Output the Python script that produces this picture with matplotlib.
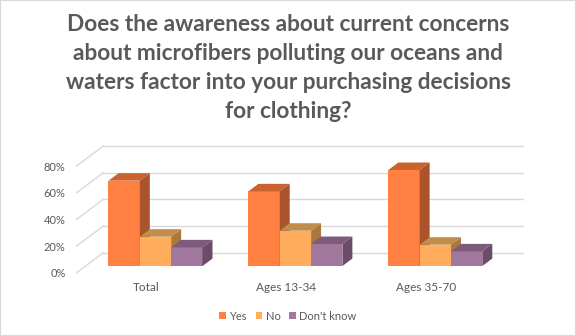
import matplotlib
matplotlib.use("Agg")
import matplotlib.pyplot as plt
from matplotlib.patches import Polygon, Rectangle, Patch

# data
categories = ["Total", "Ages 13-34", "Ages 35-70"]
series = ["Yes", "No", "Don't know"]
yes = [64, 56, 72]
no = [22, 26.5, 16]
dont_know = [14, 16.5, 11]
yticks = [0, 20, 40, 60, 80]
title = ("Does the awareness about current concerns\n"
         "about microfibers polluting our oceans and\n"
         "waters factor into your purchasing decisions\n"
         "for clothing?")

# face colours: front, top, side
colors = [
    ("#FF8040", "#C9622C", "#A9542A"),
    ("#FFAD5C", "#C38C4A", "#A9783C"),
    ("#A2779D", "#7E5B7B", "#6B4B67"),
]
grid_col = "#D9D9D9"
text_col = "#595959"
font = "Lato"

# oblique depth projection (data units per unit depth)
DX, DY = 0.19, 15.0
d0, d1 = 0.333, 0.708
w = 0.224

fig = plt.figure(figsize=(5.76, 3.36), dpi=100)
fig.patches.append(Rectangle((0, 0), 1, 1, transform=fig.transFigure,
                             fill=False, edgecolor="#D9D9D9", lw=1.5))
ax = fig.add_axes([76.7 / 576, 63.3 / 336, 446.3 / 576, 126.7 / 336])
ax.set_xlim(-0.5, 2.5 + DX)
ax.set_ylim(0, 80 + DY)

# walls
for v in yticks:
    ax.plot([-0.5 + DX, 2.5 + DX], [v + DY, v + DY], color=grid_col, lw=1,
            clip_on=False, zorder=1)
    ax.plot([-0.5, -0.5 + DX], [v, v + DY], color=grid_col, lw=1,
            clip_on=False, zorder=1)

# bars
values = [yes, no, dont_know]
for i in range(len(categories)):
    for j, vals in enumerate(values):
        v = vals[i]
        xl = i - 1.5 * w + j * w
        xr = xl + w
        front, top, side = colors[j]
        ax.add_patch(Rectangle((xl + DX * d0, DY * d0), w, v, facecolor=front,
                               edgecolor="none", zorder=2, clip_on=False))
        ax.add_patch(Polygon([(xl + DX * d0, DY * d0 + v), (xr + DX * d0, DY * d0 + v),
                              (xr + DX * d1, DY * d1 + v), (xl + DX * d1, DY * d1 + v)],
                             closed=True, facecolor=top, edgecolor="none", zorder=2,
                             clip_on=False))
        ax.add_patch(Polygon([(xr + DX * d0, DY * d0), (xr + DX * d1, DY * d1),
                              (xr + DX * d1, DY * d1 + v), (xr + DX * d0, DY * d0 + v)],
                             closed=True, facecolor=side, edgecolor="none", zorder=2,
                             clip_on=False))

ax.set_xticks(range(len(categories)))
ax.set_xticklabels(categories)
ax.set_yticks(yticks)
ax.set_yticklabels([f"{t}%" for t in yticks])
ax.tick_params(length=0, labelcolor=text_col)
ax.tick_params(axis="x", pad=7, labelsize=8.5)
ax.tick_params(axis="y", pad=8, labelsize=8)
for lab in ax.get_xticklabels() + ax.get_yticklabels():
    lab.set_fontfamily(font)
for s in ax.spines.values():
    s.set_visible(False)
ax.patch.set_alpha(0)

fig.text(0.5, 1 - 14 / 336, title, ha="center", va="top", fontsize=16.3,
         fontweight="bold", color=text_col, family=font, linespacing=1.47)

handles = [Patch(facecolor=c[0], edgecolor="none") for c in colors]
leg = fig.legend(handles, series, loc="center", bbox_to_anchor=(0.5, 1 - 316 / 336),
                 ncol=3, frameon=False, handlelength=0.6, handleheight=0.6,
                 handletextpad=0.3, columnspacing=0.8,
                 prop={"family": font, "size": 8})
for t in leg.get_texts():
    t.set_color(text_col)

fig.savefig("out.png", dpi=100)
